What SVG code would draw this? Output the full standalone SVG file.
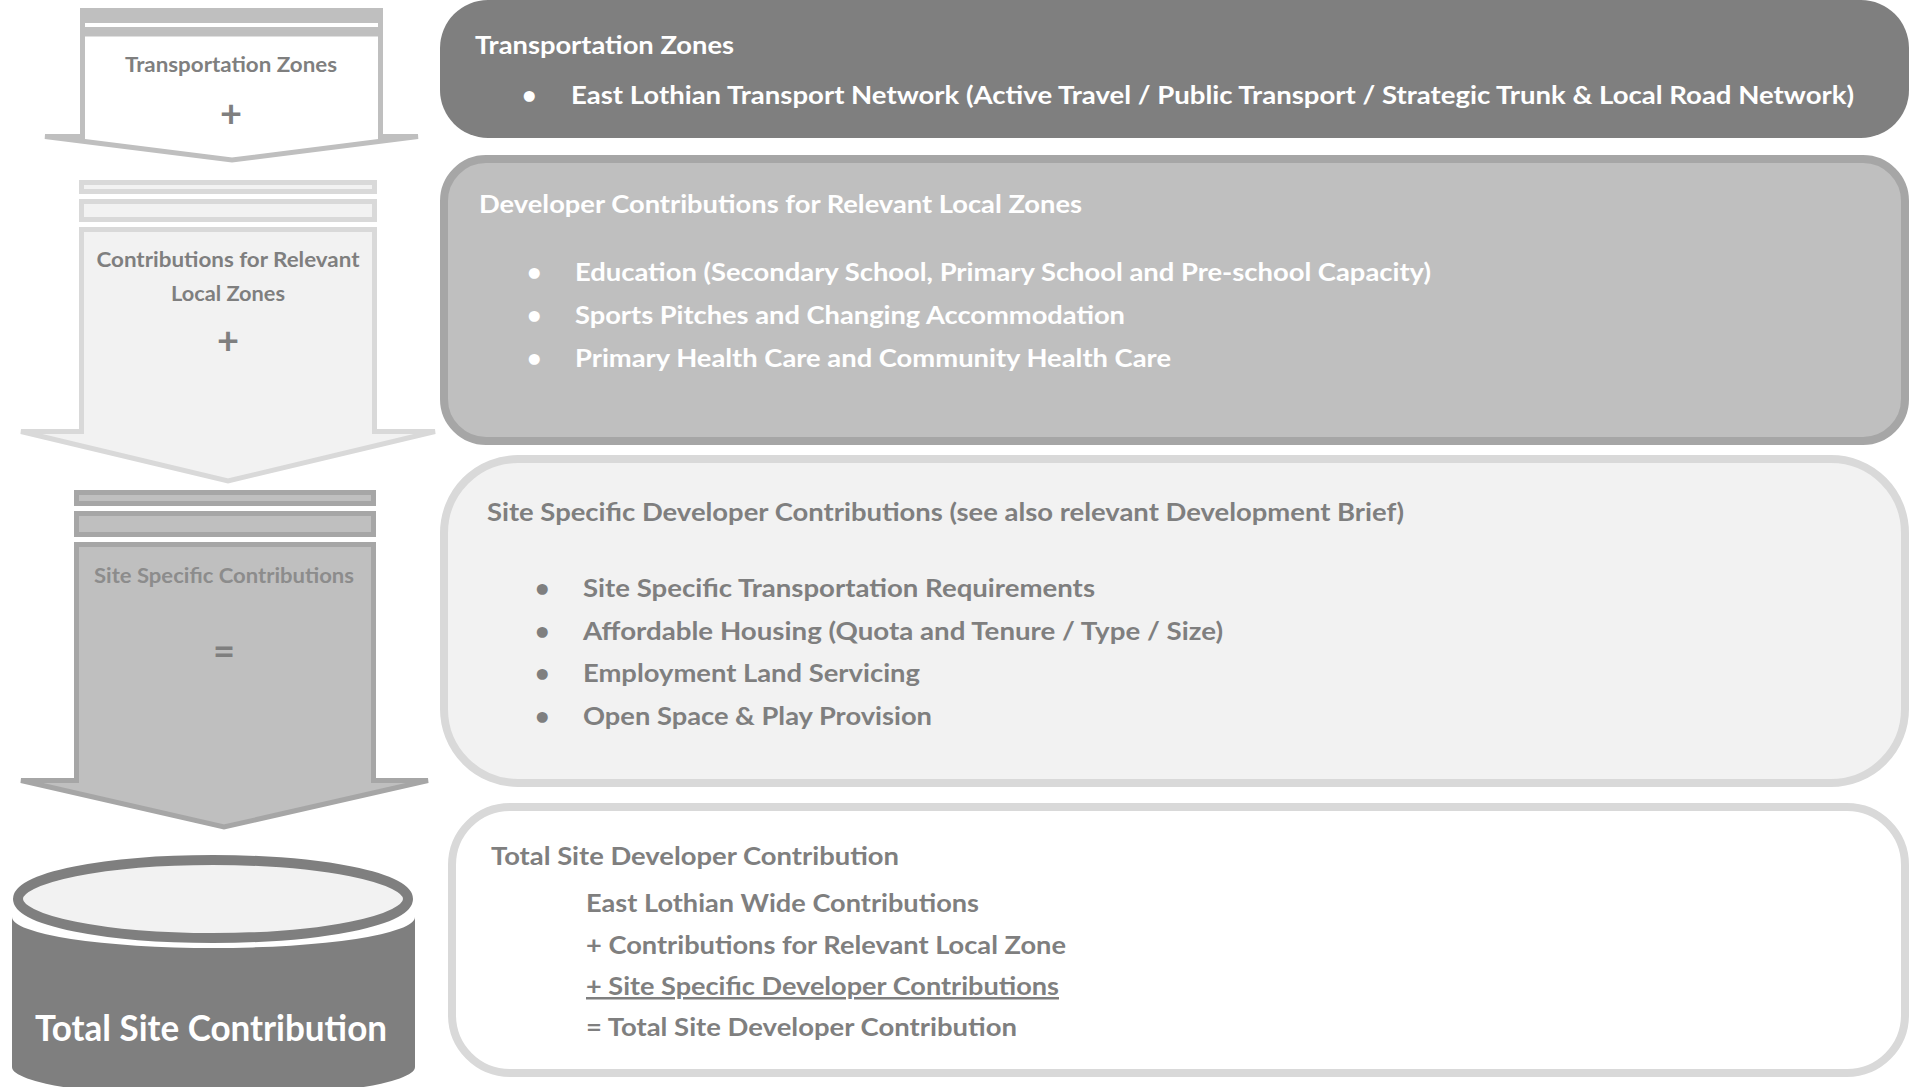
<svg xmlns="http://www.w3.org/2000/svg" width="1910" height="1087" viewBox="0 0 1910 1087">
<style>
.t{font-family:Lato,"Open Sans","Liberation Sans",sans-serif;font-weight:bold}
.g{fill:#7f7f7f}
.w{fill:#ffffff}
.m{text-anchor:middle}
.h{font-size:24px}
.b{font-size:25px}
.s{font-size:21px}
.op{font-size:38px}
</style>
<rect x="0" y="0" width="1910" height="1087" fill="#ffffff"/>

<g id="arrow-transportation">
  <polygon points="82.5,34 380.5,34 380.5,136.5 418,136.5 232,160 45,136.5 82.5,136.5" fill="#ffffff" stroke="#bfbfbf" stroke-width="5" stroke-linejoin="miter"/>
  <rect x="80" y="8" width="303" height="28" fill="#bfbfbf"/>
  <rect x="85" y="23" width="293" height="4" fill="#ffffff"/>
  <text class="t g s m" x="231" y="72" textLength="212" lengthAdjust="spacingAndGlyphs">Transportation Zones</text>
  <text class="t g op m" x="231" y="127">+</text>
</g>

<g id="arrow-local-zones">
  <rect x="81.5" y="182.5" width="293" height="9" fill="#f2f2f2" stroke="#d9d9d9" stroke-width="5"/>
  <rect x="81.5" y="201.5" width="293" height="18" fill="#f2f2f2" stroke="#d9d9d9" stroke-width="5"/>
  <polygon points="81.5,229.5 374.5,229.5 374.5,431.5 435,431.5 228,481 21,431.5 81.5,431.5" fill="#f2f2f2" stroke="#d9d9d9" stroke-width="5"/>
  <text class="t g s m" x="228" y="267" textLength="263" lengthAdjust="spacingAndGlyphs">Contributions for Relevant</text>
  <text class="t g s m" x="228" y="301" textLength="114" lengthAdjust="spacingAndGlyphs">Local Zones</text>
  <text class="t g op m" x="228" y="354">+</text>
</g>

<g id="arrow-site-specific">
  <rect x="76.5" y="492.5" width="297" height="11" fill="#bfbfbf" stroke="#a6a6a6" stroke-width="5"/>
  <rect x="76.5" y="513.5" width="297" height="21" fill="#bfbfbf" stroke="#a6a6a6" stroke-width="5"/>
  <polygon points="76.5,544.5 373.5,544.5 373.5,780.5 428,780.5 224,827 21,780.5 76.5,780.5" fill="#bfbfbf" stroke="#a6a6a6" stroke-width="5"/>
  <text class="t s m" x="224" y="583" fill="#8c8c8c" textLength="260" lengthAdjust="spacingAndGlyphs">Site Specific Contributions</text>
  <text class="t g op m" x="224" y="665">=</text>
</g>

<g id="total-cylinder">
  <path d="M12,917 A201.5,31 0 0 0 415,917 L415,1067 A201.5,30 0 0 1 12,1067 Z" fill="#7f7f7f"/>
  <ellipse cx="213" cy="899" rx="195" ry="39" fill="#f2f2f2" stroke="#7f7f7f" stroke-width="10"/>
  <text class="t w m" x="211" y="1041" font-size="36" textLength="352" lengthAdjust="spacingAndGlyphs">Total Site Contribution</text>
</g>

<g id="box-transportation">
  <rect x="440" y="0" width="1469" height="138" rx="48" ry="48" fill="#7f7f7f"/>
  <text class="t w h" x="475" y="54" textLength="259" lengthAdjust="spacingAndGlyphs">Transportation Zones</text>
  <text class="t w b" x="522" y="104">•</text>
  <text class="t w b" x="571" y="104" textLength="1283" lengthAdjust="spacingAndGlyphs">East Lothian Transport Network (Active Travel / Public Transport / Strategic Trunk &amp; Local Road Network)</text>
</g>

<g id="box-local-zones">
  <rect x="444" y="159" width="1461" height="282" rx="42" ry="42" fill="#bfbfbf" stroke="#a6a6a6" stroke-width="8"/>
  <text class="t w h" x="479" y="213" textLength="603" lengthAdjust="spacingAndGlyphs">Developer Contributions for Relevant Local Zones</text>
  <text class="t w b" x="527" y="281">•</text>
  <text class="t w b" x="575" y="281" textLength="856" lengthAdjust="spacingAndGlyphs">Education (Secondary School, Primary School and Pre-school Capacity)</text>
  <text class="t w b" x="527" y="324">•</text>
  <text class="t w b" x="575" y="324" textLength="550" lengthAdjust="spacingAndGlyphs">Sports Pitches and Changing Accommodation</text>
  <text class="t w b" x="527" y="367">•</text>
  <text class="t w b" x="575" y="367" textLength="596" lengthAdjust="spacingAndGlyphs">Primary Health Care and Community Health Care</text>
</g>

<g id="box-site-specific">
  <rect x="444" y="459" width="1461" height="324" rx="74" ry="74" fill="#f2f2f2" stroke="#d9d9d9" stroke-width="8"/>
  <text class="t g h" x="487" y="521" textLength="917" lengthAdjust="spacingAndGlyphs">Site Specific Developer Contributions (see also relevant Development Brief)</text>
  <text class="t g b" x="535" y="597">•</text>
  <text class="t g b" x="583" y="597" textLength="512" lengthAdjust="spacingAndGlyphs">Site Specific Transportation Requirements</text>
  <text class="t g b" x="535" y="640">•</text>
  <text class="t g b" x="583" y="640" textLength="640" lengthAdjust="spacingAndGlyphs">Affordable Housing (Quota and Tenure / Type / Size)</text>
  <text class="t g b" x="535" y="682">•</text>
  <text class="t g b" x="583" y="682" textLength="337" lengthAdjust="spacingAndGlyphs">Employment Land Servicing</text>
  <text class="t g b" x="535" y="725">•</text>
  <text class="t g b" x="583" y="725" textLength="349" lengthAdjust="spacingAndGlyphs">Open Space &amp; Play Provision</text>
</g>

<g id="box-total">
  <rect x="452" y="807" width="1453" height="266" rx="58" ry="58" fill="#ffffff" stroke="#d9d9d9" stroke-width="8"/>
  <text class="t g h" x="491" y="865" textLength="408" lengthAdjust="spacingAndGlyphs">Total Site Developer Contribution</text>
  <text class="t g b" x="586" y="912" textLength="393" lengthAdjust="spacingAndGlyphs">East Lothian Wide Contributions</text>
  <text class="t g b" x="586" y="954" textLength="480" lengthAdjust="spacingAndGlyphs">+ Contributions for Relevant Local Zone</text>
  <text class="t g b" x="586" y="995" textLength="473" lengthAdjust="spacingAndGlyphs" text-decoration="underline">+ Site Specific Developer Contributions</text>
  <text class="t g b" x="586" y="1036" textLength="431" lengthAdjust="spacingAndGlyphs">= Total Site Developer Contribution</text>
</g>
</svg>
